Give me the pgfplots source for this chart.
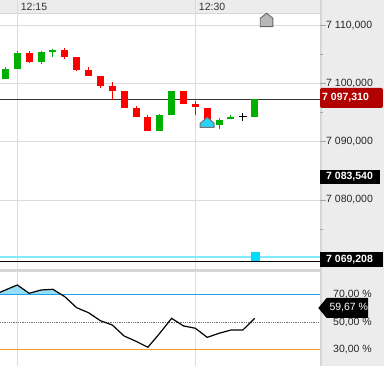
\documentclass[border=0pt]{standalone}
\usepackage{fontspec}
\setmainfont{Liberation Sans}
\usepackage{pgfplots}
\usepackage{pgfplotstable}
\pgfplotsset{compat=1.18}
\definecolor{cRed}{RGB}{255,0,0}
\definecolor{cGreen}{RGB}{0,176,0}
\definecolor{panel}{RGB}{236,236,236}
\definecolor{border}{RGB}{214,214,214}
\definecolor{gridc}{RGB}{220,220,220}
\definecolor{boxRed}{RGB}{176,0,0}
\definecolor{cyanL}{RGB}{128,232,255}
\definecolor{cyanM}{RGB}{0,220,250}
\definecolor{cyanH}{RGB}{40,210,250}
\definecolor{blueL}{RGB}{30,160,226}
\definecolor{orangeL}{RGB}{240,160,32}
\definecolor{fillB}{RGB}{150,222,246}
\definecolor{priceL}{RGB}{51,51,51}
\newcommand\lbl{\fontsize{10.5bp}{12bp}\selectfont}
\pgfdeclareplotmark{houseG}{%
  \pgfpathmoveto{\pgfpoint{-6.3bp}{-6.7bp}}%
  \pgfpathlineto{\pgfpoint{6.3bp}{-6.7bp}}%
  \pgfpathlineto{\pgfpoint{6.3bp}{1.7bp}}%
  \pgfpathlineto{\pgfpoint{0bp}{6.7bp}}%
  \pgfpathlineto{\pgfpoint{-6.3bp}{1.7bp}}%
  \pgfpathclose\pgfusepathqfillstroke}
\pgfdeclareplotmark{houseC}{%
  \pgfpathmoveto{\pgfpoint{-7bp}{-5bp}}%
  \pgfpathlineto{\pgfpoint{7bp}{-5bp}}%
  \pgfpathlineto{\pgfpoint{7bp}{-1bp}}%
  \pgfpathlineto{\pgfpoint{0bp}{5bp}}%
  \pgfpathlineto{\pgfpoint{-7bp}{-1bp}}%
  \pgfpathclose\pgfusepathqfillstroke}
% green candles: i bot(open) top(close) low high
\pgfplotstableread{
i bot top low high
-1 7100.81 7102.53 7100.81 7102.92
0 7102.53 7105.33 7102.53 7105.67
2 7103.78 7105.40 7103.44 7105.62
3 7105.50 7105.79 7104.64 7105.96
12 7091.92 7094.62 7091.92 7094.85
13 7094.67 7098.75 7094.67 7098.75
17 7092.90 7093.76 7092.27 7094.16
18 7093.88 7094.28 7093.88 7094.62
20 7094.33 7097.31 7094.33 7097.31
}\greenT
% red candles: i bot(close) top(open) low high
\pgfplotstableread{
i bot top low high
1 7103.73 7105.33 7103.50 7105.62
4 7104.64 7105.79 7104.30 7106.13
5 7102.35 7104.59 7102.18 7104.59
6 7101.32 7102.30 7101.32 7102.87
7 7099.66 7101.32 7099.31 7101.32
8 7098.80 7099.60 7097.20 7100.29
9 7095.88 7098.80 7095.88 7098.80
10 7094.33 7095.88 7094.33 7096.17
11 7091.92 7094.28 7091.92 7094.62
14 7096.56 7098.75 7096.56 7098.75
15 7095.94 7096.51 7094.62 7097.08
16 7093.60 7095.88 7093.60 7095.88
}\redT
\pgfplotstableread{
i v
-2 70.0
-1 73.7
0 77.37
1 71.25
2 73.68
3 74.2
4 68.75
5 60.64
6 56.96
7 51.07
8 47.9
9 39.8
10 35.9
11 31.5
12 41.8
13 52.8
14 47.2
15 45.5
16 38.8
17 41.8
18 44.2
19 44.2
20 52.8
}\oscT
\begin{document}
\begin{tikzpicture}[x=1bp,y=1bp]
\path[use as bounding box] (0bp,0bp) rectangle (384bp,366bp);
\fill[white] (0bp,0bp) rectangle (384bp,366bp);
\fill[panel] (320bp,0bp) rectangle (384bp,366bp);
\fill[border] (320bp,0bp) rectangle (322bp,366bp);
\fill[panel] (0bp,353bp) rectangle (320bp,366bp);
\fill[border] (0bp,352bp) rectangle (320bp,353bp);
\fill[border] (0bp,94bp) rectangle (320bp,97bp);
\begin{axis}[
  at={(0bp,97bp)}, anchor=south west, scale only axis,
  width=320bp, height=269bp,
  xmin=-1.4575, xmax=25.5, ymin=7068.14, ymax=7114.38,
  axis line style={draw=none},
  xtick={0,15}, xticklabels={}, xmajorgrids, xtick style={draw=none},
  ytick={7080,7090,7100,7110},
  yticklabels={{7 080,000},{7 090,000},{7 100,000},{7 110,000}},
  minor ytick={7075,7085,7095,7105},
  ymajorgrids, grid style={gridc, line width=1bp},
  ytick pos=right, yticklabel pos=right, tick align=outside,
  major tick length=6bp, minor tick length=3bp,
  ytick style={black!35, line width=0.8bp},
  yticklabel style={anchor=west, inner sep=0pt, font=\lbl, text=black!85},
  clip mode=individual,
]
% reference lines
\addplot[cyanL, line width=2bp, forget plot] coordinates {(-1.4575,7070.25) (25.5,7070.25)};
\addplot[black, line width=1bp, forget plot] coordinates {(-1.4575,7069.5) (25.5,7069.5)};
\addplot[priceL, line width=1bp, forget plot] coordinates {(-1.4575,7097.31) (25.5,7097.31)};
% wicks
\addplot[draw=none, forget plot, error bars/.cd, y dir=plus, y explicit, error mark=none,
  error bar style={draw=cGreen, line width=1bp}]
  table[x=i, y=low, y error expr=\thisrow{high}-\thisrow{low}] {\greenT};
\addplot[draw=none, forget plot, error bars/.cd, y dir=plus, y explicit, error mark=none,
  error bar style={draw=cRed, line width=1bp}]
  table[x=i, y=low, y error expr=\thisrow{high}-\thisrow{low}] {\redT};
% bodies
\addplot[draw=none, forget plot, error bars/.cd, y dir=plus, y explicit, error mark=none,
  error bar style={draw=cGreen, line width=7bp}]
  table[x=i, y=bot, y error expr=\thisrow{top}-\thisrow{bot}] {\greenT};
\addplot[draw=none, forget plot, error bars/.cd, y dir=plus, y explicit, error mark=none,
  error bar style={draw=cRed, line width=7bp}]
  table[x=i, y=bot, y error expr=\thisrow{top}-\thisrow{bot}] {\redT};
% markers
\addplot[only marks, mark=+, mark size=3.8bp, black, line width=0.9bp, forget plot] coordinates {(19,7094.28)};
\addplot[only marks, mark=houseC, fill=cyanH, draw=black!55, line width=1bp, forget plot] coordinates {(16,7093.36)};
\addplot[only marks, mark=houseG, fill=black!28, draw=black!60, line width=0.9bp, forget plot] coordinates {(21,7110.95)};
\addplot[only marks, mark=square*, mark size=4bp, cyanM, forget plot] coordinates {(20,7070.3)};
% header labels
\node[anchor=west, inner sep=0pt, font=\lbl, text=black!80, xshift=3.4bp, yshift=-7bp] at (axis cs:0,7114.38) {12:15};
\node[anchor=west, inner sep=0pt, font=\lbl, text=black!80, xshift=3.4bp, yshift=-7bp] at (axis cs:15,7114.38) {12:30};
% price boxes
\fill[boxRed, rounded corners=2bp] (axis cs:25.5,7095.82) rectangle (axis cs:30.807,7099.26);
\node[anchor=west, inner sep=0pt, font=\lbl\bfseries, text=white, xshift=2bp] at (axis cs:25.5,7097.54) {7 097,310};
\fill[black] (axis cs:25.5,7082.76) rectangle (axis cs:30.554,7085.16);
\node[anchor=west, inner sep=0pt, font=\lbl\bfseries, text=white, xshift=6bp] at (axis cs:25.5,7083.96) {7 083,540};
\fill[black] (axis cs:25.5,7068.48) rectangle (axis cs:30.807,7071.06);
\node[anchor=west, inner sep=0pt, font=\lbl\bfseries, text=white, xshift=6bp] at (axis cs:25.5,7069.77) {7 069,208};
\end{axis}
\begin{axis}[
  at={(0bp,0bp)}, anchor=south west, scale only axis,
  width=320bp, height=94bp,
  xmin=-1.4575, xmax=25.5, ymin=17.70, ymax=86.94,
  axis line style={draw=none},
  xtick={0,15}, xticklabels={}, xmajorgrids, xtick style={draw=none},
  grid style={gridc, line width=1bp},
  ytick={30,50,70}, yticklabels={{30,00 \%},{50,00 \%},{70,00 \%}},
  ytick style={draw=none}, yticklabel pos=right,
  yticklabel style={anchor=west, inner sep=0pt, font=\lbl, text=black!85, xshift=13bp},
  clip mode=individual,
]
\begin{scope}
\clip (axis cs:-1.4575,70) rectangle (axis cs:25.5,86.94);
\addplot[fill=fillB, draw=none, forget plot] table[x=i, y=v] {\oscT} \closedcycle;
\end{scope}
\addplot[blueL, line width=1bp, forget plot] coordinates {(-1.4575,70) (25.5,70)};
\addplot[black!55, densely dotted, line width=0.8bp, forget plot] coordinates {(-1.4575,50) (25.5,50)};
\addplot[orangeL, line width=1bp, forget plot] coordinates {(-1.4575,30) (25.5,30)};
\addplot[black, line width=1.2bp, forget plot] table[x=i, y=v] {\oscT};
\end{axis}
\fill[black] (318.3bp,58bp) -- (326.7bp,68bp) -- (368bp,68bp) -- (368bp,48bp) -- (326.7bp,48bp) -- cycle;
\node[anchor=west, inner sep=0pt, font=\lbl, text=white] at (329.3bp,58bp) {59,67 \%};
\end{tikzpicture}
\end{document}
